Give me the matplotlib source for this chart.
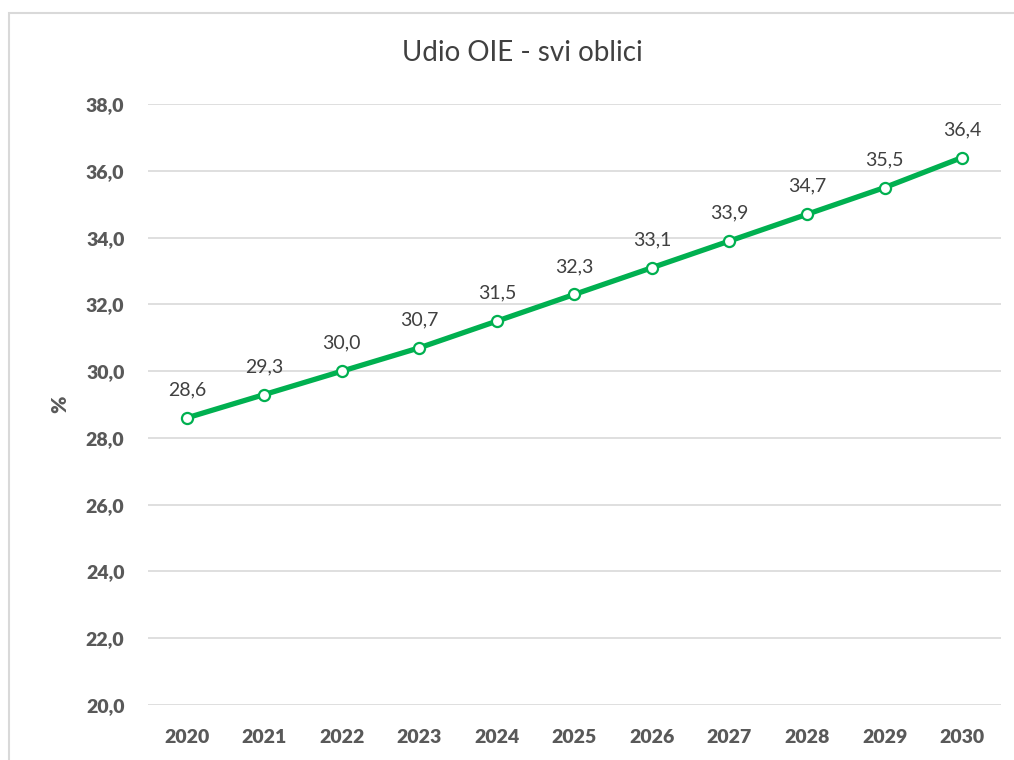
import matplotlib.pyplot as plt
from matplotlib.patches import Rectangle

years = ["2020", "2021", "2022", "2023", "2024", "2025", "2026", "2027", "2028", "2029", "2030"]
share = [28.6, 29.3, 30.0, 30.7, 31.5, 32.3, 33.1, 33.9, 34.7, 35.5, 36.4]
yticks = [20, 22, 24, 26, 28, 30, 32, 34, 36, 38]

plt.rcParams['font.family'] = ['Lato', 'DejaVu Sans']

fig = plt.figure(figsize=(10.14, 7.6), dpi=100)
ax = fig.add_axes([0.146, 0.0724, 0.841, 0.7906])

# chart frame (clipped at right and bottom like the source)
fig.patches.append(Rectangle((9 / 1014, -0.05), 1.1, 1 - 13 / 760 + 0.05,
                             transform=fig.transFigure, fill=False,
                             edgecolor="#d9d9d9", linewidth=1.5))

x = list(range(len(years)))
ax.plot(x, share, color="#00b050", linewidth=3.8, marker="o", markersize=8,
        markerfacecolor="white", markeredgecolor="#00b050", markeredgewidth=1.6,
        zorder=3)

for xi, v in zip(x, share):
    ax.annotate(f"{v:.1f}".replace(".", ","), (xi, v), xytext=(0, 14),
                textcoords="offset points", ha="center", va="bottom",
                fontsize=14, color="#404040")

ax.set_xlim(-0.5, len(years) - 0.5)
ax.set_ylim(20, 38)
ax.set_xticks(x)
ax.set_xticklabels(years, fontsize=14, fontweight="heavy", color="#595959")
ax.set_yticks(yticks)
ax.set_yticklabels([f"{t:.1f}".replace(".", ",") for t in yticks],
                   fontsize=14, fontweight="heavy", color="#595959")
ax.tick_params(length=0)
ax.tick_params(axis="y", pad=17)
ax.tick_params(axis="x", pad=17)
ax.grid(axis="y", color="#d9d9d9", linewidth=1.2)
ax.set_axisbelow(True)
for s in ax.spines.values():
    s.set_visible(False)

ax.set_ylabel("%", fontsize=15, fontweight="heavy", color="#595959", labelpad=12)
fig.text(0.5155, 0.93, "Udio OIE - svi oblici", ha="center", va="center",
         fontsize=20, color="#404040")

fig.savefig("out.png", dpi=100)
